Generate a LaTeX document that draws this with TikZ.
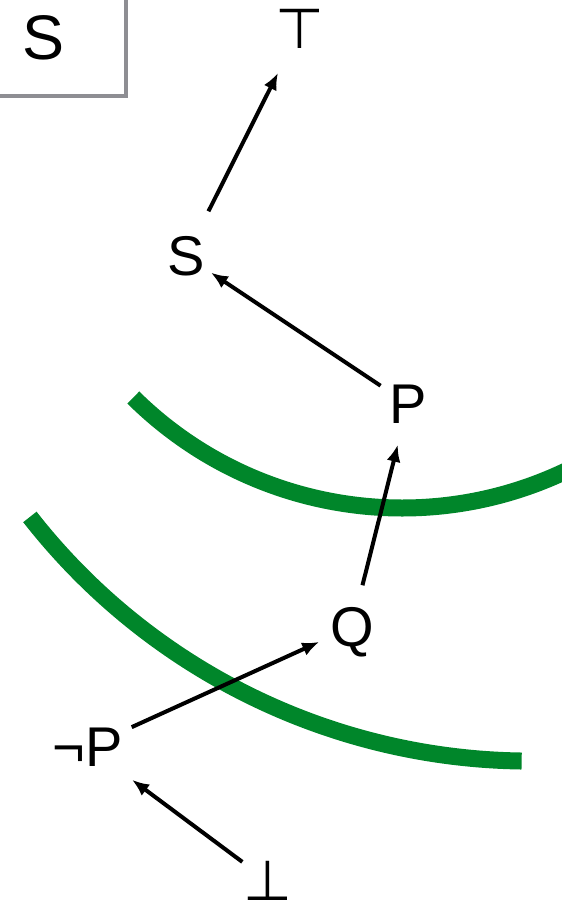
\documentclass[tikz,border=0pt]{standalone}
\usepackage{fontspec}
\setmainfont{Liberation Sans}
\newfontfamily\symfont{DejaVu Sans}
\usepackage{tikz}
\usetikzlibrary{arrows.meta}

\definecolor{cutgreen}{RGB}{0,134,42}
\definecolor{boxgray}{RGB}{142,142,147}

\begin{document}
\begin{tikzpicture}[x=1pt,y=-1pt,
    formula/.style={inner sep=0pt, text depth=0pt, font=\fontsize{56}{60}\selectfont},
    constant/.style={formula, font=\symfont\fontsize{56}{60}\selectfont},
    infer/.style={-{Latex[length=17pt,width=14pt]}, line width=4pt},
    cut/.style={cutgreen, line width=17pt}]
        \useasboundingbox (0,0) rectangle (562,914);
        \clip (0,0) rectangle (562,914);
        % label box
        \draw[boxgray, line width=4pt] (-10,-10) rectangle (126,96);
        \node[formula, font=\fontsize{63}{66}\selectfont] (lbl) at (44,38) {S};
        % formulas
        \node[constant] (top) at (300,29) {⊤};
        \node[formula] (s) at (186,256) {S};
        \node[formula] (p) at (408,404) {P};
        \node[formula] (q) at (352,627) {Q};
        \node[formula] (np) at (88,747) {¬P};
        \node[constant] (bot) at (268,881) {⊥};
        % cuts
        \draw[cut] (402,126) ++(134.7:382) arc[start angle=134.7, end angle=62, radius=382];
        \draw[cut] (530.5,125.8) ++(142:635.3) arc[start angle=142, end angle=90.8, radius=635.3];
        % inference arrows
        \draw[infer, shorten <=50pt, shorten >=49pt] (s.center) -- (top.center);
        \draw[infer, shorten <=33pt, shorten >=30pt] (p.center) -- (s.center);
        \draw[infer, shorten <=43pt, shorten >=42pt] (q.center) -- (p.center);
        \draw[infer, shorten <=48pt, shorten >=36pt] (np.center) -- (q.center);
        \draw[infer, shorten <=32pt, shorten >=55pt] (bot.center) -- (np.center);
\end{tikzpicture}
\end{document}
